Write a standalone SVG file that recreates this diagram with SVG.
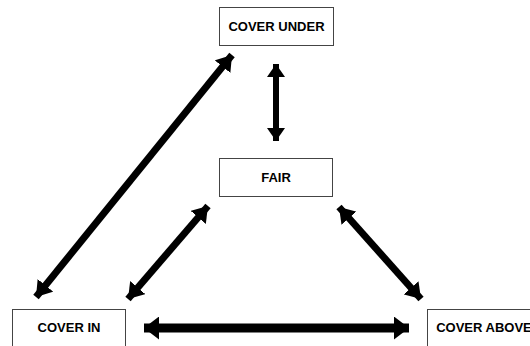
<svg xmlns="http://www.w3.org/2000/svg" width="530" height="346" viewBox="0 0 530 346">
  <defs>
    <!-- arrowheads sized in user space so the tip sits exactly at the line end -->
    <marker id="head" markerUnits="userSpaceOnUse" markerWidth="15" markerHeight="20" viewBox="0 0 15 20" refX="15" refY="10" orient="auto-start-reverse">
      <path d="M0,0 L15,10 L0,20 Z" fill="#000"/>
    </marker>
    <marker id="head-small" markerUnits="userSpaceOnUse" markerWidth="13" markerHeight="18" viewBox="0 0 13 18" refX="13" refY="9" orient="auto-start-reverse">
      <path d="M0,0 L13,9 L0,18 Z" fill="#000"/>
    </marker>
    <marker id="head-wide" markerUnits="userSpaceOnUse" markerWidth="15" markerHeight="23" viewBox="0 0 15 23" refX="15" refY="11.5" orient="auto-start-reverse">
      <path d="M0,0 L15,11.5 L0,23 Z" fill="#000"/>
    </marker>
  </defs>
  <style>
    .box { fill: #fff; stroke: #444; stroke-width: 1; }
    .label { font-family: "Liberation Sans", Arial, sans-serif; font-weight: bold; font-size: 13px; fill: #000; text-anchor: middle; }
    .link { stroke: #000; stroke-width: 7; fill: none; marker-start: url(#head); marker-end: url(#head); }
    .link.vert { stroke-width: 6; marker-start: url(#head-small); marker-end: url(#head-small); }
    .link.horiz { stroke-width: 9; marker-start: url(#head-wide); marker-end: url(#head-wide); }
  </style>
  <rect width="530" height="346" fill="#fff"/>

  <g id="connectors">
    <line class="link vert" x1="276" y1="64" x2="276" y2="141"/>
    <line class="link" x1="232" y1="55" x2="36" y2="297"/>
    <line class="link" x1="208" y1="206" x2="128" y2="299"/>
    <line class="link" x1="339" y1="207" x2="421" y2="299"/>
    <line class="link horiz" x1="144" y1="328" x2="409" y2="328"/>
  </g>

  <g id="cover-under">
    <rect class="box" x="219.5" y="7.5" width="114" height="38"/>
    <text class="label" x="276.5" y="31">COVER UNDER</text>
  </g>
  <g id="fair">
    <rect class="box" x="219.5" y="158.5" width="113" height="38"/>
    <text class="label" x="276" y="182">FAIR</text>
  </g>
  <g id="cover-in">
    <rect class="box" x="12.5" y="309.5" width="113" height="42"/>
    <text class="label" x="69" y="332">COVER IN</text>
  </g>
  <g id="cover-above">
    <rect class="box" x="427.5" y="309.5" width="113" height="42"/>
    <text class="label" x="484" y="332">COVER ABOVE</text>
  </g>
</svg>
